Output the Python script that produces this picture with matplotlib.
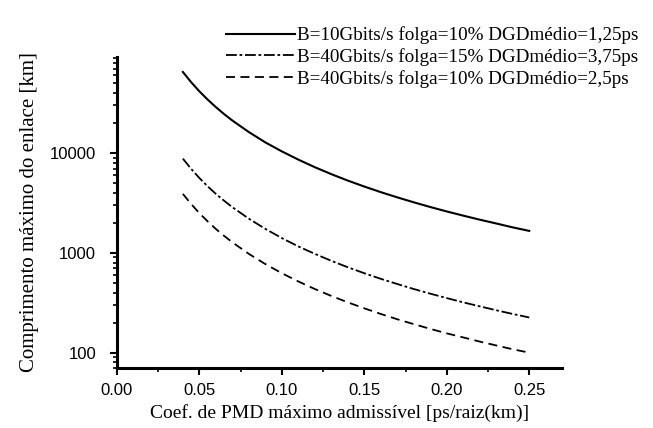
import matplotlib
matplotlib.use("Agg")
import matplotlib.pyplot as plt
import numpy as np

# PMD coefficient [ps/sqrt(km)]
pmd = [0.04, 0.045, 0.05, 0.055, 0.06, 0.065, 0.07, 0.08, 0.09, 0.10, 0.11, 0.12, 0.13, 0.14,
       0.15, 0.16, 0.17, 0.18, 0.19, 0.20, 0.21, 0.22, 0.23, 0.24, 0.25]

# max link length [km]
len_10g_10 = [65000, 51400, 41600, 34400, 28900, 24600, 21200, 16250, 12800, 10400, 8600,
              7220, 6150, 5300, 4620, 4060, 3600, 3210, 2880, 2600, 2360, 2150, 1970, 1800, 1660]
len_40g_15 = [8800, 6950, 5625, 4650, 3900, 3330, 2870, 2200, 1740, 1406, 1160,
              977, 832, 717, 625, 549, 487, 434, 390, 352, 319, 291, 266, 244, 225]
len_40g_10 = [3900, 3090, 2500, 2070, 1736, 1480, 1276, 977, 772, 625, 517,
              434, 370, 319, 278, 244, 216, 193, 173, 156, 142, 129, 118, 108, 100]

labels = ["B=10Gbits/s folga=10% DGDmédio=1,25ps",
          "B=40Gbits/s folga=15% DGDmédio=3,75ps",
          "B=40Gbits/s folga=10% DGDmédio=2,5ps"]

fig = plt.figure(figsize=(6.53, 4.28), dpi=100)
ax = fig.add_axes([0.179, 0.14, 0.682, 0.727])

ax.plot(pmd, len_10g_10, color="black", lw=1.5, label=labels[0])
ax.plot(pmd, len_40g_15, color="black", lw=1.3, dashes=(6, 1.5, 1.5, 1.5), label=labels[1])
ax.plot(pmd, len_40g_10, color="black", lw=1.3, dashes=(5, 3), label=labels[2])

ax.set_yscale("log")
ax.set_xlim(0, 0.27)
ax.set_ylim(70, 92000)

ax.set_xticks(np.arange(0, 0.26, 0.05))
ax.set_xticks(np.arange(0.025, 0.27, 0.05), minor=True)
ax.set_xticklabels(["0.00", "0.05", "0.10", "0.15", "0.20", "0.25"])
ax.set_yticks([100, 1000, 10000])
ax.set_yticklabels(["100", "1000", "10000"])

for lab in ax.get_xticklabels() + ax.get_yticklabels():
    lab.set_fontfamily("Liberation Sans")
    lab.set_fontsize(12)

ax.tick_params(which="major", direction="out", length=5, width=1.5, color="black")
ax.tick_params(axis="y", which="major", pad=10)
ax.tick_params(axis="x", which="major", pad=6)
ax.tick_params(which="minor", direction="out", length=3, width=1.2, color="black")

ax.spines["top"].set_visible(False)
ax.spines["right"].set_visible(False)
ax.spines["left"].set_linewidth(2.2)
ax.spines["bottom"].set_linewidth(2.2)

ax.set_xlabel("Coef. de PMD máximo admissível [ps/raiz(km)]",
              fontfamily="Liberation Serif", fontsize=14, labelpad=4)
ax.set_ylabel("Comprimento máximo do enlace [km]",
              fontfamily="Liberation Serif", fontsize=15, labelpad=8)

fig.legend(loc="upper right", bbox_to_anchor=(0.995, 0.965), frameon=False,
           prop={"family": "Liberation Serif", "size": 13.8},
           handlelength=3.6, handletextpad=0.1, labelspacing=0.2,
           borderaxespad=0.2)

plt.savefig("out.png", dpi=100)
